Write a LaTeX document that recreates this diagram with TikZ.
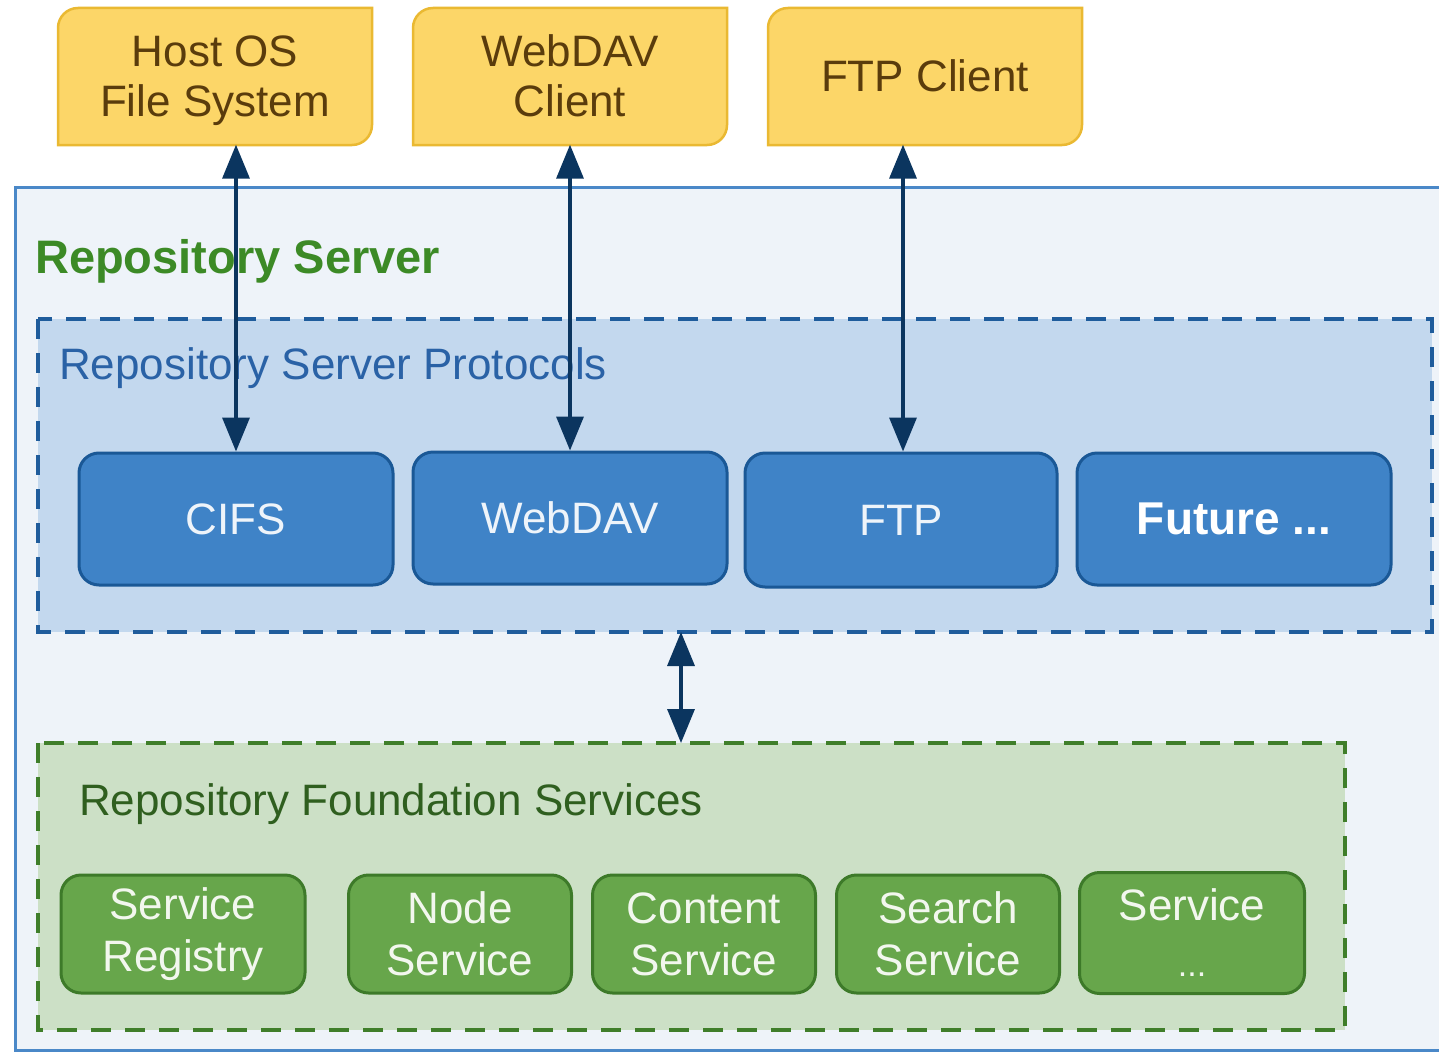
\documentclass[tikz,border=0pt]{standalone}
\usepackage{fontspec}
\setmainfont{Liberation Sans}
\usetikzlibrary{arrows.meta}
\definecolor{yfill}{HTML}{FCD668}
\definecolor{ydraw}{HTML}{EAB932}
\definecolor{ytext}{HTML}{5A3C0C}
\definecolor{outerfill}{HTML}{EEF3F9}
\definecolor{outerdraw}{HTML}{4A88C8}
\definecolor{protofill}{HTML}{C3D8EE}
\definecolor{protodraw}{HTML}{1F5C9C}
\definecolor{protext}{HTML}{2A62A6}
\definecolor{bfill}{HTML}{3F83C7}
\definecolor{bdraw}{HTML}{1A5896}
\definecolor{btext}{HTML}{EEF4FA}
\definecolor{foundfill}{HTML}{CCE0C6}
\definecolor{founddraw}{HTML}{3F7E2A}
\definecolor{foundtext}{HTML}{2F5F1F}
\definecolor{gfill}{HTML}{67A64B}
\definecolor{gdraw}{HTML}{3D7A29}
\definecolor{gtext}{HTML}{F2F7EE}
\definecolor{titlegreen}{HTML}{3C8A26}
\definecolor{arrowc}{HTML}{0B355F}
\newcommand\clientshape[1]{%
  \draw[yshape] (#1-157,145) -- (#1-157,28) arc[start angle=180,end angle=90,radius=20pt] -- (#1+157,8) -- (#1+157,125) arc[start angle=0,end angle=-90,radius=20pt] -- cycle;}
\tikzset{
  bigfont/.style={font=\fontsize{44}{50}\selectfont},
  ytxt/.style={bigfont, text=ytext, align=center, minimum width=314pt, minimum height=137pt, inner sep=0pt},
  yshape/.style={fill=yfill, draw=ydraw, line width=2.5pt},
  bbox/.style={bigfont, text=btext, fill=bfill, draw=bdraw, line width=3pt, rounded corners=20pt, minimum width=314pt, minimum height=132pt, inner sep=0pt},
  gbox/.style={font=\fontsize{44}{52}\selectfont, text=gtext, align=center, fill=gfill, draw=gdraw, line width=3pt, rounded corners=20pt, minimum width=244pt, minimum height=118pt, inner sep=0pt},
  link/.style={draw=arrowc, line width=3.5pt, {Triangle[length=34pt,width=27pt]}-{Triangle[length=34pt,width=27pt]}},
}
\begin{document}
\begin{tikzpicture}[x=1pt,y=-1pt]
\useasboundingbox (0,0) rectangle (1439,1054);
\fill[white] (0,0) rectangle (1439,1054);
% outer repository server box
\draw[fill=outerfill, draw=outerdraw, line width=3pt] (15,187) rectangle (1460,1050);
\node[font=\fontsize{47}{50}\selectfont\bfseries, text=titlegreen, anchor=base west, inner sep=0pt] (rstitle) at (35,273) {Repository Server};
% protocols box
\draw[fill=protofill, draw=protodraw, line width=3.5pt, dash pattern=on 20pt off 14pt] (38,319) rectangle (1432,632);
\node[bigfont, text=protext, anchor=base west, inner sep=0pt] (prottitle) at (59,379) {Repository Server Protocols};
% foundation box
\draw[fill=foundfill, draw=founddraw, line width=3.5pt, dash pattern=on 20pt off 14pt] (38,743) rectangle (1345,1030);
\node[bigfont, text=foundtext, anchor=base west, inner sep=0pt] (foundtitle) at (79,815) {Repository Foundation Services};
% yellow clients
\clientshape{215}
\clientshape{570}
\clientshape{925}
\node[ytxt, text depth=0pt] (host) at (215,76) {Host OS\\File System\strut};
\node[ytxt] (wdc) at (570,76) {WebDAV\\Client};
\node[ytxt] (ftpc) at (925,76) {FTP Client};
% protocol boxes
\node[bbox] (cifs) at (236,519) {CIFS};
\node[bbox] (webdav) at (570,518) {WebDAV};
\node[bbox, minimum width=312pt, minimum height=134pt] (ftp) at (901,520) {FTP};
\node[bbox, font=\fontsize{46}{50}\selectfont\bfseries, text=white] (future) at (1234,519) {Future ...};
% service boxes
\node[gbox] (reg) at (183,934) {Service\\Registry};
\node[gbox, minimum width=223pt] (node) at (460,934) {Node\\Service};
\node[gbox, minimum width=223pt] (content) at (704,934) {Content\\Service};
\node[gbox, minimum width=223pt] (search) at (948,934) {Search\\Service};
\node[gbox, minimum width=225pt, minimum height=121pt] (more) at (1192,933) {Service\\[4pt]{\fontsize{34}{40}\selectfont ...}};
% connectors
\coordinate (protbot) at (681,632);
\coordinate (foundtop) at (681,743);
\draw[link] (cifs.north |- host.south) -- (cifs.north);
\draw[link] (wdc.south) -- (webdav.north);
\draw[link] ([xshift=2pt]ftp.north |- ftpc.south) -- ([xshift=2pt]ftp.north);
\draw[link] (protbot) -- (foundtop);
\end{tikzpicture}
\end{document}
